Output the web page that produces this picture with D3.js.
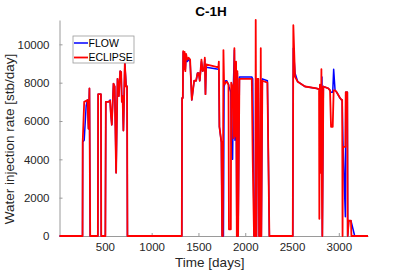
<!DOCTYPE html>
<html lang="en">
<head>
  <meta charset="UTF-8">
  <title>C-1H water injection rate</title>
  <script src="https://d3js.org/d3.v7.min.js"></script>
  <style>
    body { margin: 0; background: #fff; }
    svg { display: block; font-family: "Liberation Sans", Arial, sans-serif; }
  </style>
</head>
<body>
  <svg id="chart" width="407" height="271"></svg>
  <script>
    // time steps (days) shared by both series
    const days = [15, 261, 263, 279, 300, 314, 325, 335, 343, 425, 428, 458, 461, 505, 510, 540, 556, 562, 574, 592,
      605, 620, 635, 649, 663, 674, 681, 689, 698, 713, 727, 737, 741, 1322, 1325, 1333, 1337, 1345, 1352, 1360,
      1368, 1380, 1395, 1411, 1429, 1454, 1475, 1490, 1503, 1514, 1532, 1545, 1560, 1568, 1575, 1582, 1713, 1718,
      1724, 1745, 1753, 1760, 1767, 1774, 1790, 1803, 1821, 1826, 1846, 1850, 1865, 1874, 1884, 1890, 1902, 1910,
      1916, 1924, 1938, 2070, 2080, 2094, 2108, 2112, 2120, 2130, 2140, 2148, 2160, 2166, 2172, 2183, 2237, 2258,
      2508, 2514, 2532, 2561, 2639, 2764, 2789, 2792, 2798, 2807, 2814, 2820, 2824, 2835, 2888, 2906, 2917, 2935,
      2945, 2960, 2978, 3013, 3030, 3036, 3040, 3044, 3070, 3074, 3091, 3095, 3106, 3130, 3135, 3170, 3312];

    const flow = [0, 0, 4900, 5000, 6800, 7100, 5600, 7700, 0, 0, 7400, 7400, 0, 0, 7000, 7000, 7100, 6500, 5800, 7950,
      7800, 3300, 8200, 7300, 8600, 8550, 7000, 7300, 5500, 9000, 7900, 7800, 0, 0, 7200, 7200, 9600, 8800, 9500, 8700,
      9400, 9100, 9200, 9100, 7100, 8100, 8100, 8500, 8500, 8100, 9100, 8600, 8700, 9200, 7400, 8800, 8700, 8700,
      5700, 4900, 0, 0, 0, 7800, 8100, 8100, 7900, 7800, 7500, 5000, 4000, 8000, 9700, 5000, 8800, 0,
      8500, 0, 8300, 8300, 8200, 0, 0, 8000, 0, 8200, 8200, 0, 0, 8100, 0, 8200, 8100, 0,
      0, 9800, 8500, 8050, 7800, 7700, 7650, 7650, 7650, 7600, 7600, 8300, 0, 7800, 7700, 7600, 7500, 7500,
      8700, 7600, 7500, 7200, 7100, 7100, 6000, 5000, 1000, 7500, 7500, 0, 800, 800, 700, 0, 0];

    const eclipse = [0, 0, 4900, 7000, 7050, 7100, 5600, 7700, 0, 0, 7400, 7400, 0, 0, 7000, 7000, 7050, 6500, 5800, 7950,
      7800, 3300, 8200, 7300, 8600, 8550, 7000, 7300, 5500, 9000, 7800, 7800, 0, 0, 7200, 7200, 9650, 8700, 9600, 8600,
      9500, 9200, 9300, 9200, 7100, 8100, 8100, 8500, 8500, 8100, 9200, 8600, 8700, 9300, 7400, 8950, 8800, 9100,
      5700, 4900, 0, 0, 9700, 7900, 8000, 8050, 7900, 350, 350, 8000, 7800, 5100, 9800, 5200, 9100, 0,
      8600, 0, 8200, 8200, 4000, 0, 0, 11270, 0, 8200, 8200, 0, 0, 9800, 0, 8100, 8000, 0,
      0, 11000, 8300, 8050, 7800, 7700, 7650, 900, 7900, 3300, 8700, 2000, 0, 7800, 7700, 7600, 5700, 5700,
      7600, 7600, 7500, 7200, 7100, 7100, 0, 4650, 4650, 7500, 7500, 0, 800, 800, 0, 0, 0];

    const series = [
      { name: "FLOW", color: "#0000ff", width: 1.5, values: flow },
      { name: "ECLIPSE", color: "#ff0000", width: 1.8, values: eclipse }
    ];
    const yTicks = [0, 2000, 4000, 6000, 8000, 10000];
    const xTicks = [500, 1000, 1500, 2000, 2500, 3000];

    const svg = d3.select("#chart");
    const margin = { top: 20, right: 39, bottom: 35, left: 59.5 };
    const width = 407 - margin.left - margin.right;
    const height = 271 - margin.top - margin.bottom;

    const x = d3.scaleLinear().domain([15, 3312]).range([0, width]);
    const y = d3.scaleLinear().domain([0, d3.max(eclipse)]).range([height, 0]);

    const g = svg.append("g").attr("transform", `translate(${margin.left},${margin.top})`);

    // axes (MATLAB style: ticks inward, box off)
    const xAxis = g.append("g")
      .attr("transform", `translate(0,${height})`)
      .call(d3.axisBottom(x).tickValues(xTicks).tickFormat(d3.format("d"))
        .tickSizeInner(-3).tickSizeOuter(0).tickPadding(7));
    const yAxis = g.append("g")
      .call(d3.axisLeft(y).tickValues(yTicks).tickFormat(d3.format("d"))
        .tickSizeInner(-3).tickSizeOuter(0).tickPadding(10));

    [xAxis, yAxis].forEach(a => {
      a.select(".domain").attr("stroke", "#9a9a9a");
      a.selectAll(".tick line").attr("stroke", "#9a9a9a");
      a.selectAll(".tick text").attr("fill", "#262626").style("font-size", "11.5px");
    });

    // lines
    const line = vals => d3.line()
      .x((d, i) => x(days[i]))
      .y(d => y(d))(vals);

    series.forEach(s => {
      g.append("path")
        .attr("d", line(s.values))
        .attr("fill", "none")
        .attr("stroke", s.color)
        .attr("stroke-width", s.width)
        .attr("stroke-linejoin", "round");
    });

    // title and labels
    svg.append("text")
      .attr("x", 211).attr("y", 15.5)
      .attr("text-anchor", "middle")
      .style("font-size", "13.5px").style("font-weight", "bold")
      .attr("fill", "#000")
      .text("C-1H");

    svg.append("text")
      .attr("x", margin.left + width / 2 - 4).attr("y", 267)
      .attr("text-anchor", "middle")
      .style("font-size", "13.5px")
      .attr("fill", "#262626")
      .text("Time [days]");

    svg.append("text")
      .attr("transform", "translate(14,139) rotate(-90)")
      .attr("text-anchor", "middle")
      .style("font-size", "13.5px")
      .attr("fill", "#262626")
      .text("Water injection rate [stb/day]");

    // legend
    const legend = svg.append("g").attr("transform", "translate(73,36)");
    legend.append("rect")
      .attr("width", 61).attr("height", 27)
      .attr("fill", "#fff").attr("stroke", "#9a9a9a").attr("stroke-width", 0.8);
    series.forEach((s, i) => {
      const ly = 7 + i * 14.5;
      legend.append("line")
        .attr("x1", 1).attr("x2", 15).attr("y1", ly).attr("y2", ly)
        .attr("stroke", s.color).attr("stroke-width", s.width);
      legend.append("text")
        .attr("x", 15.5).attr("y", ly + 3.8)
        .style("font-size", "10.5px")
        .attr("fill", "#000")
        .text(s.name);
    });
  </script>
</body>
</html>
